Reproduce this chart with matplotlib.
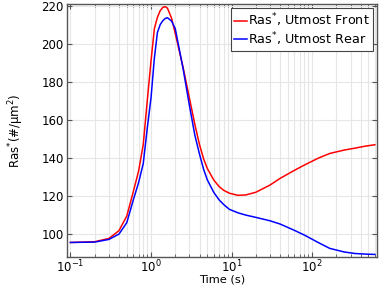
import matplotlib
matplotlib.use('Agg')
import matplotlib.pyplot as plt
from matplotlib.ticker import LogLocator, NullFormatter

# time points (s)
t = [0.1, 0.2, 0.3, 0.4, 0.5, 0.6, 0.7, 0.8, 0.9, 1.0, 1.1, 1.2, 1.3, 1.4,
     1.5, 1.6, 1.8, 2.0, 2.5, 3.0, 3.5, 4.0, 4.5, 5, 6, 7, 8, 9.4, 12, 15,
     20, 30, 40, 60, 80, 120, 165, 250, 340, 450, 600]

# Ras* at the utmost front
front = [95.6, 96.0, 97.7, 101.8, 109.5, 122, 133, 147, 170.5, 191, 208,
         214, 217.5, 219.2, 219.6, 218.8, 213.5, 205.5, 187.7, 171.4, 157.6,
         147, 139.5, 134.5, 128.5, 125, 123, 121.5, 120.4, 120.6, 122, 125.8,
         129.3, 133.5, 136.3, 140, 142.4, 144.2, 145.2, 146.2, 147]

# Ras* at the utmost rear
rear = [95.6, 95.8, 97.2, 100, 106, 117.7, 127, 137, 156, 171.7, 192.5, 206,
        210.2, 212.2, 213.4, 213.8, 212, 208, 187, 167.5, 152, 142, 134,
        128.5, 122, 118, 115.5, 113, 111.2, 110, 108.8, 107, 105.3, 102,
        99.5, 95.5, 92.5, 90.6, 89.8, 89.5, 89.3]

fig = plt.figure(figsize=(3.82, 2.86), dpi=100)
ax = fig.add_axes([0.176, 0.101, 0.812, 0.885])

ax.plot(t, front, color='red', lw=1.1, label=r'Ras$^{*}$, Utmost Front')
ax.plot(t, rear, color='blue', lw=1.1, label=r'Ras$^{*}$, Utmost Rear')

ax.set_xscale('log')
ax.set_xlim(10 ** -1.04, 10 ** 2.81)
ax.set_ylim(87.9, 221)
ax.set_yticks([100, 120, 140, 160, 180, 200, 220])
ax.xaxis.set_minor_locator(LogLocator(base=10, subs=range(2, 10), numticks=20))
ax.xaxis.set_minor_formatter(NullFormatter())

ax.grid(True, which='major', color='#e6e6e6', lw=0.8)
ax.grid(True, which='minor', axis='x', color='#e6e6e6', lw=0.8)
ax.set_axisbelow(True)

for s in ax.spines.values():
    s.set_color('#555555')
    s.set_linewidth(1.0)

ax.tick_params(which='both', direction='in', top=True, right=True,
               colors='#555555', labelcolor='black', labelsize=8.5)
ax.tick_params(which='major', length=3.5, pad=2.5)
ax.tick_params(axis='x', which='major', pad=1.5)
ax.tick_params(which='minor', length=2)

ax.set_xlabel('Time (s)', fontsize=8.2, labelpad=-0.7)
ax.set_ylabel(r'Ras$^{*}$(#/µm$^{2}$)', fontsize=8.5, labelpad=11)

leg = ax.legend(loc='upper right', fontsize=9.2, handlelength=1.0,
                handletextpad=0.1, borderpad=0.25, labelspacing=0.05,
                borderaxespad=0.35, fancybox=False, framealpha=1)
leg.get_frame().set_edgecolor('#444444')
leg.get_frame().set_linewidth(0.8)

fig.savefig('out.png', dpi=100)
